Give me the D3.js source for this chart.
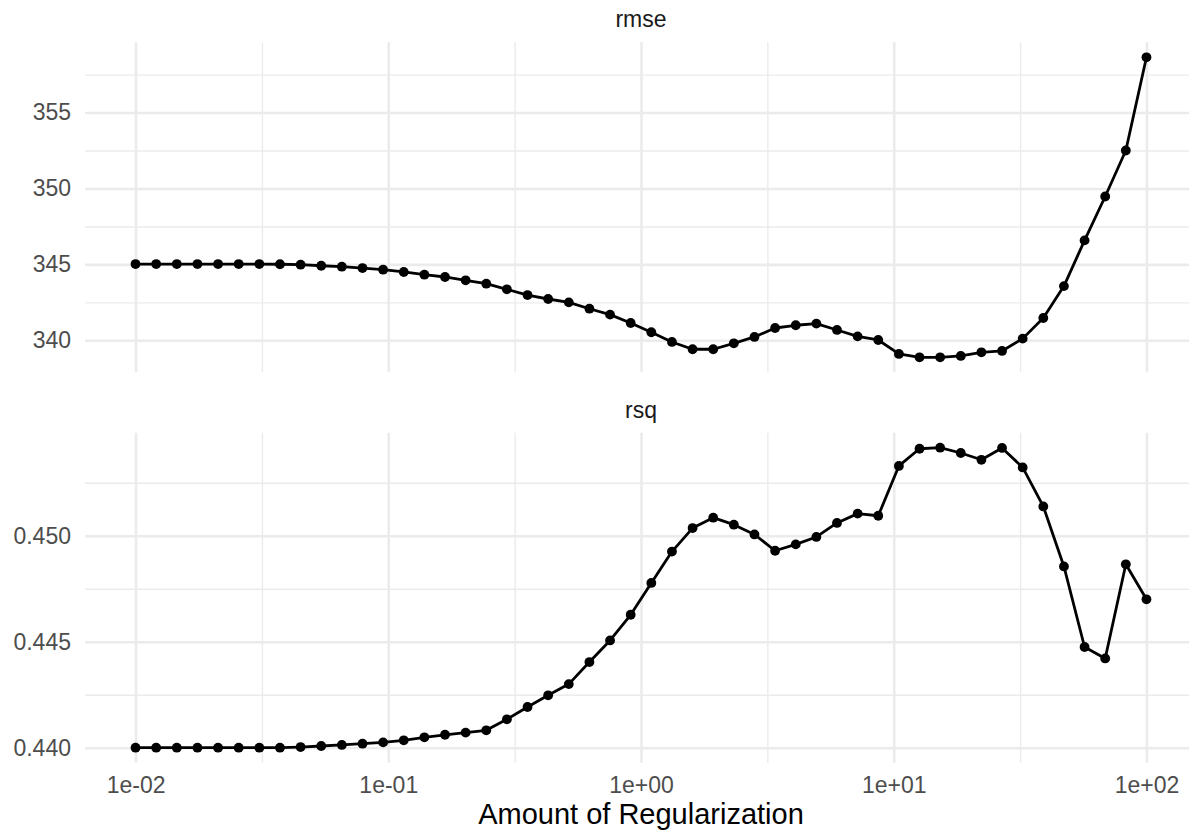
<!DOCTYPE html>
<html>
<head>
<meta charset="utf-8">
<script src="https://cdn.jsdelivr.net/npm/d3@7"></script>
<style>
  body { margin: 0; background: #fff; }
  svg { display: block; }
  text { font-family: "Liberation Sans", Arial, sans-serif; }
</style>
</head>
<body>
<script>
const width = 1189, height = 832;

// penalty grid (x), 50 levels
const penalty = [0.01, 0.012068, 0.014563, 0.017575, 0.02121, 0.025595, 0.030888, 0.037276, 0.044984, 0.054287,
  0.065513, 0.07906, 0.09541, 0.11514, 0.13895, 0.167683, 0.202359, 0.244205, 0.294705, 0.355648,
  0.429193, 0.517947, 0.625055, 0.754312, 0.910298, 1.098541, 1.325711, 1.599859, 1.930698, 2.329952,
  2.811769, 3.393222, 4.094915, 4.941713, 5.963623, 7.196857, 8.685114, 10.481131, 12.648552, 15.26418,
  18.4207, 22.229965, 26.826958, 32.374575, 39.069399, 47.148664, 56.89866, 68.664885, 82.864277, 100];

const rmse = [345.02, 345.02, 345.02, 345.02, 345.02, 345.02, 345.02, 345.01, 344.98, 344.91,
  344.85, 344.76, 344.65, 344.50, 344.32, 344.17, 343.95, 343.73, 343.36, 342.98,
  342.72, 342.50, 342.08, 341.69, 341.14, 340.53, 339.89, 339.41, 339.41, 339.80,
  340.22, 340.81, 340.99, 341.10, 340.68, 340.26, 340.02, 339.10, 338.88, 338.88,
  338.97, 339.21, 339.30, 340.11, 341.47, 343.57, 346.58, 349.47, 352.50, 358.64];

const rsq = [0.44000, 0.44000, 0.44000, 0.44000, 0.44000, 0.44000, 0.44000, 0.44000, 0.44003, 0.44008,
  0.44013, 0.44019, 0.44025, 0.44035, 0.44049, 0.44061, 0.44071, 0.44082, 0.44134, 0.44192,
  0.44247, 0.44300, 0.44404, 0.44506, 0.44627, 0.44777, 0.44925, 0.45036, 0.45085, 0.45052,
  0.45006, 0.44929, 0.44959, 0.44994, 0.45060, 0.45104, 0.45094, 0.45329, 0.45410, 0.45415,
  0.45390, 0.45358, 0.45414, 0.45322, 0.45138, 0.44855, 0.44475, 0.44421, 0.44865, 0.44700];

const metrics = ["rmse", "rsq"];
const values = { rmse: rmse, rsq: rsq };

const xBreaks = [0.01, 0.1, 1, 10, 100];
const xLabels = ["1e-02", "1e-01", "1e+00", "1e+01", "1e+02"];
const xMinor = [0.0316228, 0.316228, 3.16228, 31.6228];

const yBreaks = { rmse: [340, 345, 350, 355], rsq: [0.440, 0.445, 0.450] };
const yMinor = { rmse: [342.5, 347.5, 352.5, 357.5], rsq: [0.4425, 0.4475, 0.4525] };
const yFormat = { rmse: d3.format("d"), rsq: d3.format(".3f") };

const xTitle = "Amount of Regularization";

// layout
const panelLeft = 85, panelRight = 1197;
const panelTops = [42.3, 432.7];
const panelH = 330;
const gridCol = "#EBEBEB";

const svg = d3.select("body").append("svg")
  .attr("width", width)
  .attr("height", height);

// log x with 5% expansion in log space
const lx = d3.extent(penalty).map(Math.log10);
const lpad = (lx[1] - lx[0]) * 0.05;
const x = d3.scaleLog()
  .domain([Math.pow(10, lx[0] - lpad), Math.pow(10, lx[1] + lpad)])
  .range([panelLeft, panelRight]);

metrics.forEach((m, k) => {
  const top = panelTops[k], bottom = top + panelH;
  const vals = values[m];
  const ext = d3.extent(vals);
  const pad = (ext[1] - ext[0]) * 0.05;
  const y = d3.scaleLinear().domain([ext[0] - pad, ext[1] + pad]).range([bottom, top]);

  const g = svg.append("g");

  // minor grid
  g.append("g")
    .attr("transform", `translate(0,${bottom})`)
    .call(d3.axisBottom(x).tickValues(xMinor).tickSize(-panelH).tickFormat(""))
    .call(s => s.select(".domain").remove())
    .call(s => s.selectAll("line").attr("stroke", gridCol).attr("stroke-width", 1.4));
  g.append("g")
    .attr("transform", `translate(${panelLeft},0)`)
    .call(d3.axisLeft(y).tickValues(yMinor[m]).tickSize(-(panelRight - panelLeft)).tickFormat(""))
    .call(s => s.select(".domain").remove())
    .call(s => s.selectAll("line").attr("stroke", gridCol).attr("stroke-width", 1.4));

  // major grid + y labels
  g.append("g")
    .attr("transform", `translate(0,${bottom})`)
    .call(d3.axisBottom(x).tickValues(xBreaks).tickSize(-panelH).tickFormat(""))
    .call(s => s.select(".domain").remove())
    .call(s => s.selectAll("line").attr("stroke", gridCol).attr("stroke-width", 2.6));
  g.append("g")
    .attr("transform", `translate(${panelLeft},0)`)
    .call(d3.axisLeft(y).tickValues(yBreaks[m]).tickSize(-(panelRight - panelLeft)).tickPadding(14).tickFormat(yFormat[m]))
    .call(s => s.select(".domain").remove())
    .call(s => s.selectAll("line").attr("stroke", gridCol).attr("stroke-width", 2.6))
    .call(s => s.selectAll("text").attr("fill", "#4D4D4D").attr("font-size", 23)
      .attr("font-family", '"Liberation Sans", Arial, sans-serif'));

  // strip label
  svg.append("text")
    .attr("x", (panelLeft + panelRight) / 2)
    .attr("y", top - 15)
    .attr("text-anchor", "middle")
    .attr("fill", "#1A1A1A")
    .attr("font-size", 23)
    .text(m);

  // line + points
  const pts = penalty.map((p, i) => [p, vals[i]]);
  g.append("path")
    .datum(pts)
    .attr("fill", "none")
    .attr("stroke", "#000")
    .attr("stroke-width", 2.8)
    .attr("stroke-linejoin", "round")
    .attr("d", d3.line().x(d => x(d[0])).y(d => y(d[1])));

  g.selectAll("circle")
    .data(pts)
    .join("circle")
    .attr("cx", d => x(d[0]))
    .attr("cy", d => y(d[1]))
    .attr("r", 4.9)
    .attr("fill", "#000");

  // x axis labels under the bottom panel only
  if (k === metrics.length - 1) {
    g.append("g")
      .attr("transform", `translate(0,${bottom})`)
      .call(d3.axisBottom(x).tickValues(xBreaks).tickSize(0).tickPadding(14)
        .tickFormat((d, i) => xLabels[i]))
      .call(s => s.select(".domain").remove())
      .call(s => s.selectAll("text").attr("fill", "#4D4D4D").attr("font-size", 23)
        .attr("font-family", '"Liberation Sans", Arial, sans-serif'));
  }
});

svg.append("text")
  .attr("x", (panelLeft + panelRight) / 2)
  .attr("y", 824)
  .attr("text-anchor", "middle")
  .attr("fill", "#000")
  .attr("font-size", 29)
  .text(xTitle);
</script>
</body>
</html>
